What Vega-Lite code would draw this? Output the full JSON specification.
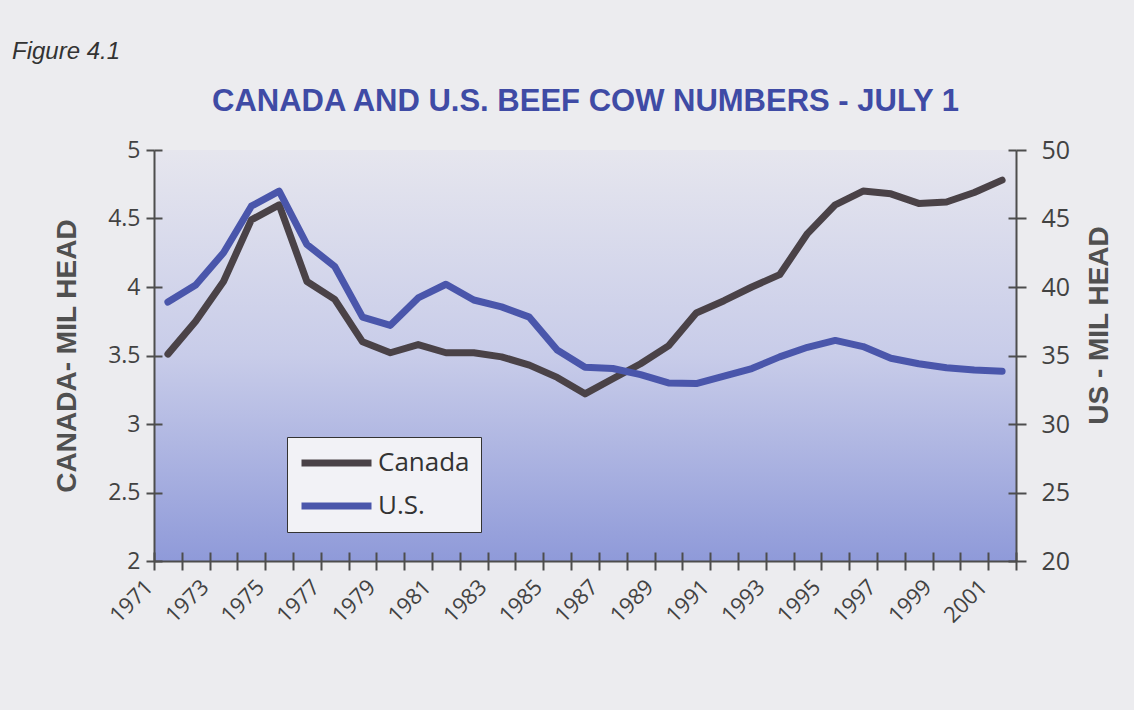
{
  "$schema": "https://vega.github.io/schema/vega-lite/v6.json",
  "width": 862,
  "height": 411,
  "autosize": {"type": "none"},
  "padding": {"left": 154, "top": 150, "right": 118, "bottom": 149},
  "background": "#ececef",
  "title": {
    "text": "Figure 4.1",
    "anchor": "start",
    "frame": "group",
    "dx": -142,
    "offset": 21,
    "font": "Liberation Sans",
    "fontSize": 24,
    "fontStyle": "italic",
    "fontWeight": "normal",
    "color": "#333333"
  },
  "view": {
    "stroke": null,
    "fill": {
      "gradient": "linear",
      "x1": 0, "y1": 0, "x2": 0, "y2": 1,
      "stops": [
        {"offset": 0, "color": "#e6e6ee"},
        {"offset": 0.5, "color": "#c8cce9"},
        {"offset": 1, "color": "#8f9ad9"}
      ]
    }
  },
  "config": {
    "axis": {
      "grid": false,
      "domainColor": "#4d4d4d",
      "domainWidth": 2,
      "tickColor": "#4d4d4d",
      "tickWidth": 2,
      "labelColor": "#424242",
      "labelFont": "Open Sans",
      "titleFont": "Liberation Sans",
      "titleFontWeight": "bold",
      "titleColor": "#505050"
    }
  },
  "data": {
    "values": [
      {"year": 1971, "series": "Canada", "value": 3.51},
      {"year": 1972, "series": "Canada", "value": 3.75},
      {"year": 1973, "series": "Canada", "value": 4.04},
      {"year": 1974, "series": "Canada", "value": 4.49},
      {"year": 1975, "series": "Canada", "value": 4.6},
      {"year": 1976, "series": "Canada", "value": 4.04},
      {"year": 1977, "series": "Canada", "value": 3.91},
      {"year": 1978, "series": "Canada", "value": 3.6},
      {"year": 1979, "series": "Canada", "value": 3.52},
      {"year": 1980, "series": "Canada", "value": 3.58},
      {"year": 1981, "series": "Canada", "value": 3.52},
      {"year": 1982, "series": "Canada", "value": 3.52},
      {"year": 1983, "series": "Canada", "value": 3.49},
      {"year": 1984, "series": "Canada", "value": 3.43},
      {"year": 1985, "series": "Canada", "value": 3.34},
      {"year": 1986, "series": "Canada", "value": 3.22},
      {"year": 1987, "series": "Canada", "value": 3.33},
      {"year": 1988, "series": "Canada", "value": 3.44},
      {"year": 1989, "series": "Canada", "value": 3.57},
      {"year": 1990, "series": "Canada", "value": 3.81},
      {"year": 1991, "series": "Canada", "value": 3.9},
      {"year": 1992, "series": "Canada", "value": 4.0},
      {"year": 1993, "series": "Canada", "value": 4.09},
      {"year": 1994, "series": "Canada", "value": 4.39},
      {"year": 1995, "series": "Canada", "value": 4.6},
      {"year": 1996, "series": "Canada", "value": 4.7},
      {"year": 1997, "series": "Canada", "value": 4.68},
      {"year": 1998, "series": "Canada", "value": 4.61},
      {"year": 1999, "series": "Canada", "value": 4.62},
      {"year": 2000, "series": "Canada", "value": 4.69},
      {"year": 2001, "series": "Canada", "value": 4.78},
      {"year": 1971, "series": "U.S.", "value": 38.9},
      {"year": 1972, "series": "U.S.", "value": 40.15},
      {"year": 1973, "series": "U.S.", "value": 42.5},
      {"year": 1974, "series": "U.S.", "value": 45.9},
      {"year": 1975, "series": "U.S.", "value": 47.0},
      {"year": 1976, "series": "U.S.", "value": 43.1},
      {"year": 1977, "series": "U.S.", "value": 41.5},
      {"year": 1978, "series": "U.S.", "value": 37.8},
      {"year": 1979, "series": "U.S.", "value": 37.2},
      {"year": 1980, "series": "U.S.", "value": 39.2},
      {"year": 1981, "series": "U.S.", "value": 40.2},
      {"year": 1982, "series": "U.S.", "value": 39.05},
      {"year": 1983, "series": "U.S.", "value": 38.55},
      {"year": 1984, "series": "U.S.", "value": 37.8},
      {"year": 1985, "series": "U.S.", "value": 35.4},
      {"year": 1986, "series": "U.S.", "value": 34.15},
      {"year": 1987, "series": "U.S.", "value": 34.05},
      {"year": 1988, "series": "U.S.", "value": 33.6},
      {"year": 1989, "series": "U.S.", "value": 33.0},
      {"year": 1990, "series": "U.S.", "value": 32.95},
      {"year": 1991, "series": "U.S.", "value": 33.5},
      {"year": 1992, "series": "U.S.", "value": 34.05},
      {"year": 1993, "series": "U.S.", "value": 34.9},
      {"year": 1994, "series": "U.S.", "value": 35.6},
      {"year": 1995, "series": "U.S.", "value": 36.1},
      {"year": 1996, "series": "U.S.", "value": 35.65},
      {"year": 1997, "series": "U.S.", "value": 34.8},
      {"year": 1998, "series": "U.S.", "value": 34.4},
      {"year": 1999, "series": "U.S.", "value": 34.1},
      {"year": 2000, "series": "U.S.", "value": 33.95},
      {"year": 2001, "series": "U.S.", "value": 33.85}
    ]
  },
  "layer": [
    {
      "transform": [{"filter": "datum.series == 'Canada'"}],
      "mark": {"type": "line", "strokeWidth": 7, "strokeCap": "round", "strokeJoin": "round"},
      "encoding": {
        "x": {
          "field": "year", "type": "ordinal", "bandPosition": 0.5,
          "scale": {"type": "band", "paddingInner": 0, "paddingOuter": 0},
          "axis": {
            "orient": "bottom", "title": null, "tickBand": "extent", "tickSize": 9,
            "labelAngle": -45, "labelAlign": "right", "labelBaseline": "top",
            "labelPadding": 6, "labelOffset": -26, "labelFontSize": 22, "labelOverlap": false,
            "labelExpr": "datum.value % 2 == 1 ? datum.label : ''"
          }
        },
        "y": {
          "field": "value", "type": "quantitative",
          "scale": {"domain": [2, 5], "nice": false, "zero": false},
          "axis": {
            "orient": "left", "values": [2, 2.5, 3, 3.5, 4, 4.5, 5], "format": "~g", "tickSize": 8,
            "labelFontSize": 23, "labelPadding": 6,
            "title": "CANADA- MIL HEAD", "titleFontSize": 28, "titlePadding": 26
          }
        },
        "color": {
          "field": "series", "type": "nominal",
          "scale": {"domain": ["Canada", "U.S."], "range": ["#4a4247", "#4a56ab"]},
          "legend": {
            "orient": "none", "legendX": 133, "legendY": 287, "title": null,
            "symbolType": "stroke", "symbolSize": 4900, "symbolStrokeWidth": 7,
            "clipHeight": 30,
            "labelFontSize": 26, "labelFont": "Open Sans", "labelColor": "#333333",
            "strokeColor": "#333333", "fillColor": "#f2f2f6", "padding": 11,
            "rowPadding": 13, "labelOffset": 3
          }
        }
      }
    },
    {
      "transform": [{"filter": "datum.series == 'U.S.'"}],
      "mark": {"type": "line", "strokeWidth": 7, "strokeCap": "round", "strokeJoin": "round"},
      "encoding": {
        "x": {
          "field": "year", "type": "ordinal", "bandPosition": 0.5,
          "scale": {"type": "band", "paddingInner": 0, "paddingOuter": 0},
          "axis": {
            "orient": "bottom", "title": null, "tickBand": "extent", "tickSize": -9,
            "labels": false, "domain": false
          }
        },
        "y": {
          "field": "value", "type": "quantitative",
          "scale": {"domain": [20, 50], "nice": false, "zero": false},
          "axis": {
            "orient": "right", "values": [20, 25, 30, 35, 40, 45, 50], "tickSize": 10,
            "labelFontSize": 25, "labelPadding": 15,
            "title": "US - MIL HEAD", "titleFontSize": 28, "titlePadding": 44,
            "titleAngle": 270, "titleY": 175
          }
        },
        "color": {"field": "series", "type": "nominal"}
      }
    },
    {
      "transform": [{"filter": "datum.series == 'Canada'"}],
      "mark": {"type": "line", "opacity": 0},
      "encoding": {
        "x": {
          "field": "year", "type": "ordinal", "bandPosition": 0.5,
          "scale": {"type": "band", "paddingInner": 0, "paddingOuter": 0},
          "axis": {
            "orient": "top", "ticks": false, "labels": false, "domain": false,
            "title": "CANADA AND U.S. BEEF COW NUMBERS - JULY 1",
            "titleFont": "Liberation Sans", "titleFontSize": 31, "titleFontWeight": "bold",
            "titleColor": "#3f4ba5", "titlePadding": 33
          }
        },
        "y": {
          "field": "value", "type": "quantitative",
          "scale": {"domain": [2, 5], "nice": false, "zero": false},
          "axis": {
            "orient": "left", "values": [2, 2.5, 3, 3.5, 4, 4.5, 5], "tickSize": -8,
            "labels": false, "domain": false, "title": null
          }
        }
      }
    },
    {
      "transform": [{"filter": "datum.series == 'U.S.'"}],
      "mark": {"type": "line", "opacity": 0},
      "encoding": {
        "x": {
          "field": "year", "type": "ordinal", "bandPosition": 0.5,
          "scale": {"type": "band", "paddingInner": 0, "paddingOuter": 0},
          "axis": null
        },
        "y": {
          "field": "value", "type": "quantitative",
          "scale": {"domain": [20, 50], "nice": false, "zero": false},
          "axis": {
            "orient": "right", "values": [20, 25, 30, 35, 40, 45, 50], "tickSize": -8,
            "labels": false, "domain": false, "title": null
          }
        }
      }
    }
  ],
  "resolve": {"scale": {"y": "independent"}, "axis": {"x": "independent", "y": "independent"}}
}
